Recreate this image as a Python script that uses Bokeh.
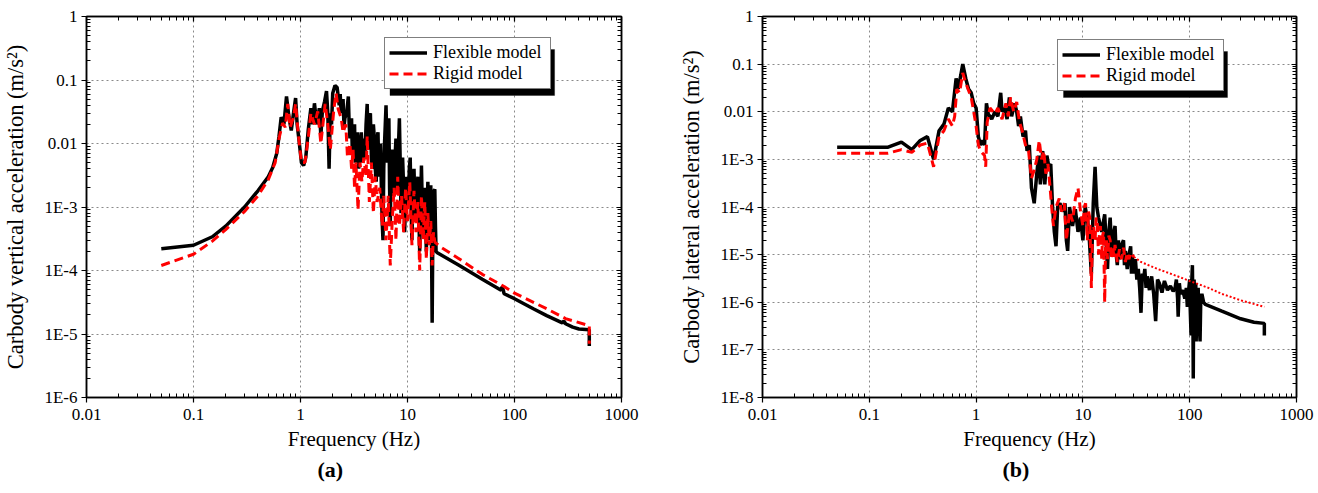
from bokeh.plotting import figure
from bokeh.layouts import row
from bokeh.models import (FixedTicker, Legend, LegendItem, Title, BoxAnnotation,
                          LogAxis, Range1d)
from bokeh.embed import file_html
from bokeh.resources import INLINE

FONT = "Liberation Serif"

# ---------------- data (a) vertical ----------------
a_flex_f = [0.05,0.1,0.15,0.2,0.3,0.4,0.5,0.55,0.6,0.63,0.66,0.7,0.74,0.78,0.82,0.86,0.9,0.93,0.97,1.02,1.07,1.12,1.18,1.25,1.3,1.35,1.42,1.5,1.55,1.6,1.68,1.75,1.8,1.85,1.9,1.95,2.0,2.1,2.2,2.3,2.35,2.4,2.5,2.55,2.6,2.7,2.8,2.85,2.9,3.0,3.05,3.1,3.2,3.25,3.3,3.4,3.5,3.6,3.7,3.8,3.9,4.0,4.1,4.2,4.3,4.4,4.5,4.6,4.7,4.8,4.9,5.0,5.1,5.2,5.3,5.4,5.5,5.6,5.7,5.8,5.9,6.0,6.1,6.2,6.3,6.4,6.5,6.6,6.7,6.8,6.9,7.0,7.2,7.35,7.5,7.65,7.8,7.95,8.1,8.25,8.4,8.55,8.7,8.85,9.0,9.2,9.4,9.6,9.8,10.0,10.2,10.4,10.6,10.8,11.0,11.25,11.5,11.75,12.0,12.25,12.5,12.75,13.0,13.25,13.5,13.75,14.0,14.25,14.5,14.75,15.0,15.25,15.5,15.75,16.0,16.25,16.5,16.75,17.0,17.25,17.5,17.75,18.0,18.25,18.5,19.0,30,50,75,77,80,100,150,200,280,290,300,350,400,500,500]
a_flex_v = [2.2e-4,2.5e-4,3.4e-4,5e-4,1.0e-3,1.8e-3,3.0e-3,4.2e-3,7e-3,0.013,0.026,0.02,0.055,0.026,0.016,0.03,0.052,0.02,0.011,0.005,0.0045,0.006,0.016,0.036,0.02,0.043,0.02,0.036,0.013,0.032,0.046,0.067,0.03,0.004,0.03,0.02,0.062,0.082,0.076,0.04,0.06,0.03,0.05,0.018,0.025,0.03,0.055,0.02,0.012,0.025,0.007,0.012,0.02,0.005,0.006,0.015,0.004,0.009,0.015,0.005,0.012,0.006,0.02,0.042,0.008,0.025,0.03,0.006,0.004,0.02,0.012,0.004,0.0025,0.012,0.015,0.003,0.005,0.01,0.002,0.0006,0.0003,0.004,0.01,0.02,0.04,0.012,0.005,0.015,0.025,0.002,0.0005,0.003,0.008,0.003,0.0015,0.006,0.012,0.004,0.002,0.01,0.025,0.005,0.0008,0.002,0.006,0.002,0.0004,0.0012,0.003,0.0015,0.0012,0.004,0.006,0.001,0.0003,0.002,0.004,0.001,0.0006,0.0015,0.003,0.0008,0.0002,0.001,0.0045,0.001,0.0004,0.001,0.002,0.0006,0.0002,0.001,0.0025,0.0008,0.0003,0.0012,0.0022,0.0003,1.5e-5,0.0004,0.0009,0.0018,0.0019,0.0005,0.0002,1.9e-4,1.22e-4,7.3e-5,4.9e-5,5.6e-5,4.3e-5,3.6e-5,2.5e-5,1.95e-5,1.5e-5,1.6e-5,1.45e-5,1.28e-5,1.2e-5,1.17e-5,6.5e-6]

a_rig_f = [0.05,0.1,0.15,0.2,0.3,0.4,0.5,0.58,0.63,0.68,0.72,0.76,0.8,0.86,0.9,0.95,1.02,1.1,1.18,1.25,1.35,1.45,1.55,1.7,1.8,1.9,2.05,2.15,2.25,2.4,2.5,2.65,2.75,2.9,3.0,3.1,3.2,3.3,3.45,3.6,3.75,3.9,4.1,4.2,4.4,4.6,4.8,5.0,5.2,5.5,5.8,6.0,6.3,6.6,6.9,7.2,7.5,7.8,8.1,8.4,8.8,9.2,9.6,10.0,10.5,11.0,11.5,12.0,12.5,13.0,13.5,14.0,14.5,15.0,15.5,16.0,16.5,17.0,17.5,18.0,20,30,50,80,100,200,300,500,500]
a_rig_v = [1.2e-4,1.8e-4,2.9e-4,4.4e-4,8.5e-4,1.5e-3,2.7e-3,5e-3,0.012,0.021,0.018,0.042,0.018,0.026,0.042,0.015,0.005,0.005,0.012,0.03,0.02,0.032,0.01,0.042,0.02,0.008,0.035,0.062,0.035,0.025,0.015,0.02,0.006,0.01,0.004,0.008,0.002,0.005,0.0009,0.005,0.0025,0.006,0.003,0.013,0.0012,0.005,0.0008,0.003,0.0012,0.002,0.0005,0.0015,0.0003,0.0015,0.00012,0.0006,0.002,0.0003,0.003,0.0005,0.0015,0.0004,0.002,0.0006,0.0025,0.00025,0.0018,0.0004,0.0012,0.0001,0.0015,0.0003,0.0012,0.00015,0.0008,0.00025,0.0006,0.00012,0.0004,0.00028,2.4e-4,1.55e-4,8.7e-5,5.6e-5,4.4e-5,2.5e-5,1.75e-5,1.35e-5,7e-6]

# ---------------- data (b) lateral ----------------
b_flex_f = [0.05,0.15,0.2,0.25,0.3,0.35,0.4,0.45,0.5,0.55,0.6,0.65,0.68,0.72,0.75,0.8,0.85,0.9,0.95,1.0,1.05,1.1,1.15,1.2,1.25,1.3,1.4,1.5,1.6,1.7,1.75,1.85,1.95,2.05,2.15,2.3,2.4,2.5,2.6,2.75,2.9,3.0,3.15,3.3,3.5,3.7,3.85,4.0,4.2,4.4,4.6,4.8,5.0,5.2,5.4,5.6,5.8,6.1,6.4,6.8,7.0,7.2,7.5,8.0,8.5,9.0,9.5,10,10.5,11,11.5,12,12.5,13,13.5,14,15,16,17,17.5,18,18.5,19,19.5,20,20.5,21,21.5,22,23,24,24.5,25,26,27,28,28.5,29,30,31,32,33,34,35,36,37,38,39,40,42,44,46,48,50,52,55,58,62,66,70,73,75,77,78,80,82,86,90,93,95,97,100,101,103,104,106,107,108,109,110,112,114,115,117,120,122,125,127,130,135,140,200,300,400,500,500]
b_flex_v = [1.8e-3,1.8e-3,2.3e-3,1.6e-3,2.5e-3,3e-3,1.0e-3,4e-3,5.5e-3,0.012,0.01,0.05,0.03,0.06,0.1,0.05,0.03,0.025,0.015,0.012,0.003,0.002,0.0025,0.002,0.015,0.009,0.007,0.01,0.008,0.025,0.01,0.012,0.007,0.02,0.008,0.015,0.01,0.005,0.008,0.003,0.004,0.0015,0.002,0.00025,0.00012,0.0005,0.0012,0.0003,0.0015,0.0003,0.0012,0.0007,0.0008,0.0001,3e-5,1.5e-5,1e-4,1.2e-4,8e-5,1.2e-4,2e-5,1.2e-5,1e-4,4e-5,9e-5,3e-5,6e-5,2e-5,1e-4,6e-5,2e-5,4e-6,1.2e-4,7e-4,1e-4,6e-5,3e-5,7e-5,5e-6,3e-5,6e-5,1.5e-5,1e-5,3e-5,4e-5,1e-5,6e-6,2e-5,8e-6,1.6e-5,2e-5,6e-6,1.2e-5,5e-6,1e-5,1.5e-5,4e-6,9e-6,4e-6,8e-6,3e-6,5e-6,2e-6,6e-7,4e-6,3e-6,5e-6,2e-6,3.5e-6,1.8e-6,3.5e-6,1.5e-6,4e-7,3e-6,2.5e-6,1.6e-6,2.8e-6,1.8e-6,2.2e-6,1.7e-6,2e-6,3e-6,1.2e-6,5e-7,2.5e-6,1.5e-6,1.8e-6,1.2e-6,2e-6,8e-7,1.5e-6,3e-6,8e-7,2e-7,2e-6,6e-6,1e-6,2.5e-8,1.5e-6,3e-6,4e-7,2.5e-6,1.5e-7,1.5e-6,2e-6,5e-7,1.5e-7,1.2e-6,1.5e-6,1e-6,9e-7,6.5e-7,4.5e-7,3.8e-7,3.6e-7,2e-7]

b_rig_f = [0.05,0.15,0.2,0.25,0.3,0.35,0.4,0.45,0.5,0.55,0.6,0.63,0.66,0.7,0.75,0.8,0.9,0.95,1.0,1.05,1.1,1.2,1.23,1.27,1.35,1.5,1.6,1.75,1.9,2.0,2.1,2.25,2.4,2.55,2.7,2.9,3.1,3.3,3.5,3.7,3.9,4.1,4.3,4.5,4.7,4.9,5.1,5.3,5.6,6.0,6.3,6.7,7.0,7.5,8,8.5,9,9.5,10,10.3,10.6,11,11.3,11.6,12,12.3,12.6,13,13.3,13.6,14,14.3,14.6,15,15.3,15.6,16,16.3,16.6,17,17.5,18,18.5,19,19.5,20,21,22,23,24,25,26,27,28,30,35,50,70,100,150,200,300,500]
b_rig_v = [1.35e-3,1.35e-3,1.6e-3,1.4e-3,2e-3,2.2e-3,7e-4,3e-3,4e-3,0.007,0.005,0.008,0.03,0.025,0.065,0.04,0.02,0.01,0.005,0.002,0.0015,0.0012,7e-4,0.006,0.012,0.009,0.012,0.007,0.015,0.008,0.02,0.01,0.016,0.006,0.004,0.002,0.0015,0.0004,0.0006,0.001,0.0025,0.001,0.0015,0.0005,0.0008,0.0003,1e-4,4e-5,1e-4,1.5e-4,8e-5,1.2e-4,2e-5,8e-5,5e-5,1.5e-4,2.5e-4,8e-5,4e-5,1e-4,1.2e-4,2e-5,8e-5,6e-5,2e-6,3e-5,4e-5,2e-5,6e-5,5e-5,1e-5,3e-5,4e-5,8e-6,2.5e-5,3e-5,1e-6,1.5e-5,2e-5,8e-6,2.5e-5,2e-5,8e-6,1.5e-5,9e-6,1.6e-5,7e-6,1.3e-5,8e-6,1.4e-5,7e-6,1.1e-5,8e-6,1.1e-5,9e-6,7e-6,5e-6,3.8e-6,2.8e-6,2e-6,1.5e-6,1.1e-6,8e-7]

x_ticks = [0.01, 0.1, 1.0, 10.0, 100.0, 1000.0]
x_labels = ["0.01", "0.1", "1", "10", "100", "1000"]
ya_ticks = [1e-6, 1e-5, 1e-4, 1e-3, 0.01, 0.1, 1.0]
ya_labels = ["1E-6", "1E-5", "1E-4", "1E-3", "0.01", "0.1", "1"]
yb_ticks = [1e-8, 1e-7, 1e-6, 1e-5, 1e-4, 1e-3, 0.01, 0.1, 1.0]
yb_labels = ["1E-8", "1E-7", "1E-6", "1E-5", "1E-4", "1E-3", "0.01", "0.1", "1"]


def minors(ticks):
    out = []
    for t in ticks[:-1]:
        out += [t * k for k in range(2, 10)]
    return out


def style_axis(ax, ticks, labels, show):
    ax.ticker = FixedTicker(ticks=ticks, minor_ticks=minors(ticks))
    ax.axis_line_color = "black"
    ax.axis_line_width = 1.5
    ax.major_tick_line_color = "black"
    ax.minor_tick_line_color = "black"
    ax.major_tick_line_width = 1.2
    ax.minor_tick_line_width = 1
    if show:
        ax.major_label_overrides = {t: l for t, l in zip(ticks, labels)}
        ax.major_label_text_font = FONT
        ax.major_label_text_font_size = "17px"
        ax.major_label_text_color = "black"
        ax.major_tick_out = 5
        ax.major_tick_in = 0
        ax.minor_tick_out = 0
        ax.minor_tick_in = 4
        ax.axis_label_text_font = FONT
        ax.axis_label_text_font_style = "normal"
        ax.axis_label_text_color = "black"
    else:
        ax.major_label_text_font_size = "1px"
        ax.major_label_text_alpha = 0
        ax.major_label_standoff = 0
        ax.major_tick_out = 0
        ax.major_tick_in = 5
        ax.minor_tick_out = 0
        ax.minor_tick_in = 4


def make(fx, fv, rx, rv, yt, yl, ylabel, ymin, bl, br, legloc, shadow, tag, tag_off, split):
    p = figure(width=658, height=488, x_axis_type="log", y_axis_type="log",
               x_range=Range1d(0.01, 1000), y_range=Range1d(ymin, 1.0),
               output_backend="svg", toolbar_location=None,
               min_border_left=bl, min_border_right=br,
               min_border_top=16, min_border_bottom=91)
    p.background_fill_color = "white"
    p.border_fill_color = "white"
    p.outline_line_color = "black"
    p.outline_line_width = 1.5

    style_axis(p.xaxis[0], x_ticks, x_labels, True)
    style_axis(p.yaxis[0], yt, yl, True)
    p.xaxis.axis_label = "Frequency (Hz)"
    p.xaxis.axis_label_text_font_size = "21px"
    p.xaxis.axis_label_standoff = 4
    p.xaxis.major_label_standoff = 6
    p.yaxis.axis_label = ylabel
    p.yaxis.axis_label_text_font_size = "22.5px"
    p.yaxis.axis_label_standoff = 13
    p.yaxis.major_label_standoff = 4

    top = LogAxis()
    style_axis(top, x_ticks, x_labels, False)
    p.add_layout(top, "above")
    right = LogAxis()
    style_axis(right, yt, yl, False)
    p.add_layout(right, "right")

    for g in (p.xgrid[0], p.ygrid[0]):
        g.grid_line_color = "#8a8a8a"
        g.grid_line_dash = "2 3"
        g.grid_line_width = 1
    p.xgrid.ticker = FixedTicker(ticks=x_ticks)
    p.ygrid.ticker = FixedTicker(ticks=yt)

    r1 = p.line(fx, fv, line_color="black", line_width=3.5)
    r2 = p.line(rx[:split], rv[:split], line_color="red", line_width=3, line_dash="9 5")
    if split < len(rx):
        p.line(rx[split - 1:], rv[split - 1:], line_color="red", line_width=2, line_dash="2 2")

    sh = BoxAnnotation(left=shadow[0], right=shadow[1], bottom=shadow[2], top=shadow[3],
                       fill_color="black", fill_alpha=1.0, line_color="black")
    p.add_layout(sh)

    leg = Legend(items=[LegendItem(label="Flexible model", renderers=[r1]),
                        LegendItem(label="Rigid model", renderers=[r2])],
                 location=legloc)
    leg.border_line_color = "black"
    leg.border_line_width = 1.2
    leg.background_fill_color = "white"
    leg.background_fill_alpha = 1.0
    leg.label_text_font = FONT
    leg.label_text_font_size = "18px"
    leg.label_text_color = "black"
    leg.glyph_width = 38
    leg.glyph_height = 19
    leg.label_height = 19
    leg.label_width = 113
    leg.label_standoff = 6
    leg.padding = 4
    leg.spacing = 0
    leg.margin = 0
    p.add_layout(leg)

    t = Title(text=tag, align="left", offset=tag_off, text_font=FONT, text_font_size="22px",
              text_font_style="bold", text_color="black", standoff=2)
    p.add_layout(t, "below")
    return p


pa = make(a_flex_f, a_flex_v, a_rig_f, a_rig_v, ya_ticks, ya_labels,
          "Carbody vertical acceleration (m/s\u00b2)", 1e-6, 85, 37, (298, 308),
          (6.86, 237.0, 0.057, 0.302), "(a)", 231, len(a_rig_f))
pb = make(b_flex_f, b_flex_v, b_rig_f, b_rig_v, yb_ticks, yb_labels,
          "Carbody lateral acceleration (m/s\u00b2)", 1e-8, 104, 20, (295, 306),
          (6.58, 226.0, 0.0199, 0.184), "(b)", 240, b_rig_f.index(30) + 1)

layout = row(pa, pb)
open("out.html", "w").write(file_html(layout, INLINE))
